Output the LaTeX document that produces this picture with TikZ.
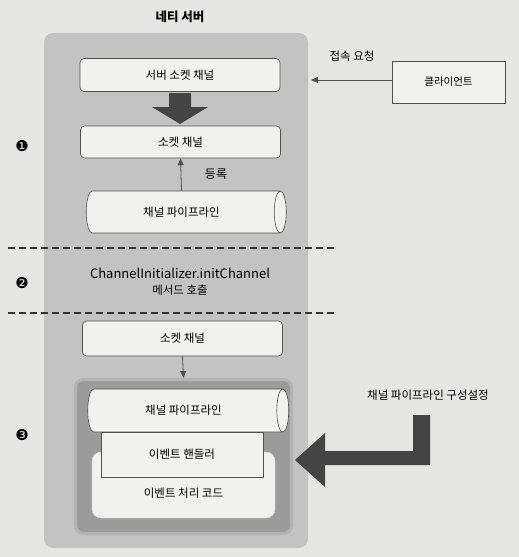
\documentclass[tikz,border=0pt]{standalone}
\usepackage{fontspec}
\setmainfont{Noto Sans CJK KR}
\newfontfamily\numfont{DejaVu Sans}
\usetikzlibrary{shapes.geometric,arrows.meta}

\definecolor{pagebg}{HTML}{E6E6E4}
\definecolor{panelgray}{HTML}{C3C3C3}
\definecolor{innerrim}{HTML}{B3B3B3}
\definecolor{innerfill}{HTML}{9B9B9B}
\definecolor{boxfill}{HTML}{F1F1F0}
\definecolor{linegray}{HTML}{505050}
\definecolor{arrowdark}{HTML}{444444}

\tikzset{
  chanbox/.style={draw=linegray, fill=boxfill, rounded corners=4pt, line width=0.6pt,
    minimum width=200pt, minimum height=33pt, font=\fontsize{11.5pt}{13pt}\selectfont},
  pipe/.style={cylinder, draw=linegray, fill=boxfill, line width=0.6pt, aspect=0.7,
    minimum width=42pt, minimum height=200pt, font=\fontsize{11.5pt}{13pt}\selectfont},
  lbl/.style={font=\fontsize{11.5pt}{13pt}\selectfont},
  stepnum/.style={font=\numfont\fontsize{15pt}{17pt}\selectfont},
  thin arrow/.style={-{Triangle[length=7pt,width=6pt]}, line width=0.8pt, draw=linegray},
  divider/.style={dash pattern=on 7pt off 4pt, line width=1.2pt, draw=black!80}
}

\begin{document}
\begin{tikzpicture}[x=1pt,y=-1pt]
	% 배경 (페이지)
	\fill[pagebg] (0,0) rectangle (519,557);
	\useasboundingbox (0,0) rectangle (519,557);

	% 네티 서버 영역
	\node[fill=panelgray, rounded corners=9pt, minimum width=264pt, minimum height=515pt] (netty) at (176,290.5) {};
	\node[font=\bfseries\fontsize{12.5pt}{14pt}\selectfont] (title) at (180,17) {네티 서버};

	% 1단계: 서버 소켓 채널 -> 소켓 채널
	\node[chanbox] (srvsock) at (180,75) {서버 소켓 채널};
	\fill[arrowdark] (169,93) -- (191,93) -- (191,107) -- (208,107) -- (180,124) -- (152,107) -- (169,107) -- cycle;
	\node[chanbox, minimum height=32pt] (sock) at (180.5,142) {소켓 채널};
	\node[pipe] (pipe) at (181.5,212) {채널 파이프라인};
	\draw[thin arrow] (pipe.north) -- (sock.south);
	\node[lbl, font=\fontsize{12pt}{14pt}\selectfont] (reg) at (216,174) {등록};

	% 클라이언트 접속 요청
	\node[draw=linegray, fill=boxfill, line width=0.6pt, minimum width=113pt, minimum height=42pt,
	      font=\fontsize{10.5pt}{12pt}\selectfont] (client) at (448.5,82) {클라이언트};
	\coordinate (reqend) at (311,80);
	\draw[thin arrow] (client.west |- reqend) -- (reqend);
	\node[lbl] (req) at (352,56) {접속 요청};

	% 단계 구분선
	\draw[divider] (8,248) -- (335,248);
	\draw[divider] (8,313) -- (336,313);

	% 2단계: initChannel 호출
	\node[font=\fontsize{13pt}{15pt}\selectfont] (init) at (180,273) {ChannelInitializer.initChannel};
	\node[lbl] (call) at (180,290) {메서드 호출};

	% 3단계: 채널 파이프라인 구성
	\node[chanbox, minimum height=35pt] (sock2) at (182.5,338.5) {소켓 채널};
	\node[draw=innerrim, fill=innerfill, line width=3pt, rounded corners=8pt,
	      minimum width=216pt, minimum height=154pt] (cfg) at (183.5,456.5) {};
	\draw[thin arrow] (sock2.south) -- (cfg.north);
	\node[fill=boxfill, draw=black!15, rounded corners=9pt, minimum width=183pt, minimum height=66pt] (code) at (183.5,485) {};
	\node[lbl] (codetxt) at (183.5,493) {이벤트 처리 코드};
	\node[pipe, minimum width=43pt, minimum height=201pt] (pipe2) at (183.5,410.5) {채널 파이프라인};
	\node[draw=linegray, fill=boxfill, line width=0.6pt, minimum width=162pt, minimum height=45pt, lbl] (handler) at (182,454.5) {이벤트 핸들러};

	% 채널 파이프라인 구성설정 화살표
	\fill[arrowdark] (430,415) -- (430,465) -- (325,465) -- (325,487) -- (295,460) -- (325,433) -- (325,451) -- (413,451) -- (413,415) -- cycle;
	\node[lbl] (setup) at (428,395) {채널 파이프라인 구성설정};

	% 단계 번호
	\node[stepnum] (n1) at (22,146) {❶};
	\node[stepnum] (n2) at (22,283) {❷};
	\node[stepnum] (n3) at (22,435) {❸};
\end{tikzpicture}
\end{document}
